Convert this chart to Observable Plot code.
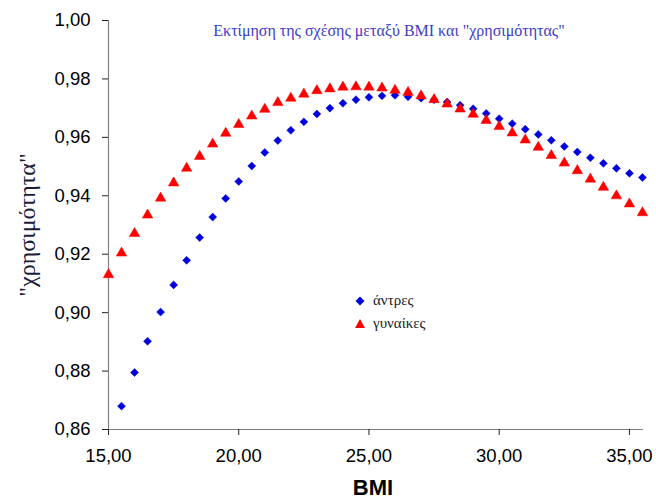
<!DOCTYPE html>
<html>
<head>
<meta charset="utf-8">
<script src="https://cdn.jsdelivr.net/npm/d3@7"></script>
<script src="https://cdn.jsdelivr.net/npm/@observablehq/plot@0.6"></script>
<style>
  html, body { margin: 0; padding: 0; background: #fff; }
  #wrap { position: relative; width: 656px; height: 500px; }
  #legend { position: absolute; left: 353px; top: 289px; font-family: "Liberation Serif", serif; font-size: 15px; color: #1a1a1a; }
  #legend div { display: flex; align-items: center; height: 23px; }
  #legend svg { margin-right: 6px; }
</style>
</head>
<body>
<div id="wrap"><div id="legend"></div></div>
<script>
const title = "Εκτίμηση της σχέσης μεταξύ BMI και \"χρησιμότητας\"";
const xLabel = "BMI";
const yLabel = "\"χρησιμότητα\"";
const seriesNames = ["άντρες", "γυναίκες"];
const xTicks = [15, 20, 25, 30, 35];
const yTicks = [0.86, 0.88, 0.90, 0.92, 0.94, 0.96, 0.98, 1.00];

const bmiMen = [15.5, 16, 16.5, 17, 17.5, 18, 18.5, 19, 19.5, 20, 20.5, 21, 21.5, 22, 22.5, 23, 23.5, 24, 24.5, 25, 25.5, 26, 26.5, 27, 27.5, 28, 28.5, 29, 29.5, 30, 30.5, 31, 31.5, 32, 32.5, 33, 33.5, 34, 34.5, 35, 35.5];
const utilMen = [0.868, 0.8795, 0.8902, 0.9002, 0.9095, 0.9179, 0.9257, 0.9327, 0.9391, 0.9449, 0.9502, 0.9548, 0.9589, 0.9624, 0.9653, 0.9680, 0.9700, 0.9717, 0.9729, 0.9737, 0.9742, 0.9744, 0.9739, 0.9734, 0.9729, 0.9721, 0.9710, 0.9698, 0.9682, 0.9664, 0.9647, 0.9628, 0.9610, 0.9590, 0.9569, 0.9550, 0.9530, 0.9511, 0.9494, 0.9477, 0.9463];

const bmiWomen = [15, 15.5, 16, 16.5, 17, 17.5, 18, 18.5, 19, 19.5, 20, 20.5, 21, 21.5, 22, 22.5, 23, 23.5, 24, 24.5, 25, 25.5, 26, 26.5, 27, 27.5, 28, 28.5, 29, 29.5, 30, 30.5, 31, 31.5, 32, 32.5, 33, 33.5, 34, 34.5, 35, 35.5];
const utilWomen = [0.913, 0.9204, 0.9271, 0.9334, 0.9392, 0.9444, 0.9494, 0.9535, 0.9577, 0.9614, 0.9644, 0.9673, 0.9696, 0.9719, 0.9734, 0.9748, 0.9760, 0.9766, 0.9772, 0.9773, 0.9772, 0.9769, 0.9761, 0.9754, 0.9742, 0.9729, 0.9714, 0.9697, 0.9679, 0.9658, 0.9637, 0.9615, 0.9591, 0.9566, 0.9538, 0.9512, 0.9486, 0.9457, 0.9429, 0.9400, 0.9372, 0.9342];

const men = bmiMen.map((x, i) => ({x, y: utilMen[i]}));
const women = bmiWomen.map((x, i) => ({x, y: utilWomen[i]}));

const blue = "#0000dd";
const red = "#ff0000";
const fmt = d => d.toFixed(2).replace(".", ",");

const chart = Plot.plot({
  width: 656,
  height: 500,
  marginLeft: 108,
  marginRight: 13,
  marginTop: 20,
  marginBottom: 71,
  style: {fontFamily: "'Liberation Sans', Arial, sans-serif", background: "#fff"},
  x: {domain: [15, 35.54], axis: null},
  y: {domain: [0.86, 1.00], axis: null},
  marks: [
    Plot.ruleX([15], {stroke: "#808080", strokeWidth: 1.2, y1: 0.86, y2: 1.00}),
    Plot.ruleY([0.86], {stroke: "#808080", strokeWidth: 1.2}),
    Plot.axisY({ticks: yTicks, tickFormat: fmt, tickSize: 6, tickPadding: 12, fontSize: 18.5, fill: "#000", stroke: "#222", label: null}),
    Plot.axisX({ticks: xTicks, tickFormat: fmt, tickSize: 6, tickPadding: 13, fontSize: 18.5, fill: "#000", stroke: "#222", label: null}),
    Plot.dot(men, {x: "x", y: "y", symbol: "diamond2", r: 3.6, fill: blue, stroke: blue, strokeWidth: 0.5}),
    Plot.dot(women, {x: "x", y: "y", symbol: "triangle", r: 3.9, fill: red, stroke: red, strokeWidth: 0.5}),
    Plot.text([title], {frameAnchor: "top", dx: 13, dy: 10, fontSize: 16, fill: "#3c3cc8", fontFamily: "'Liberation Serif', serif", lineAnchor: "middle"}),
    Plot.text([xLabel], {frameAnchor: "bottom", dx: -3, dy: 58, fontSize: 22, fontWeight: "bold", fill: "#000", lineAnchor: "middle"}),
    Plot.text([yLabel], {frameAnchor: "left", textAnchor: "middle", dx: -81, dy: 0, rotate: -90, fontSize: 24, fill: "#1a1a3a", fontFamily: "'Liberation Serif', serif", lineAnchor: "middle"})
  ]
});
document.getElementById("wrap").prepend(chart);

// legend
const legend = document.getElementById("legend");
const shapes = [
  `<svg width="14" height="14"><path d="M7,2.5L11.5,7L7,11.5L2.5,7Z" fill="${blue}"/></svg>`,
  `<svg width="14" height="14"><path d="M7,2L12,11L2,11Z" fill="${red}"/></svg>`
];
seriesNames.forEach((name, i) => {
  const row = document.createElement("div");
  row.innerHTML = shapes[i] + `<span>${name}</span>`;
  legend.appendChild(row);
});
</script>
</body>
</html>
